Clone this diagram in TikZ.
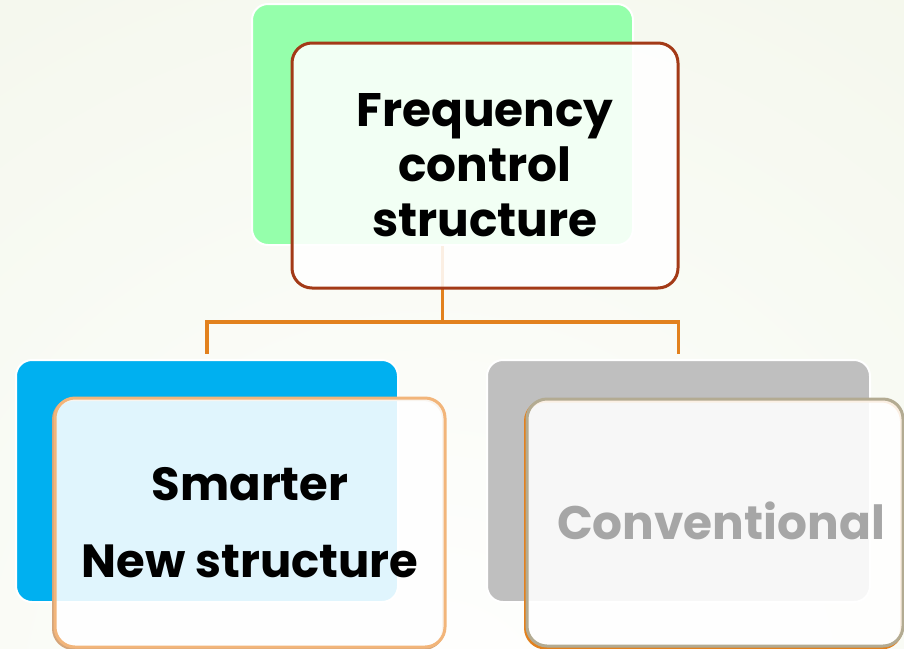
\documentclass[tikz,border=0pt]{standalone}
\usepackage{fontspec}
\setmainfont{Poppins}
\definecolor{bgedge}{HTML}{EEF3E2}
\definecolor{greenbk}{HTML}{95FFAB}
\definecolor{bluebk}{HTML}{00B0F0}
\definecolor{graybk}{HTML}{BFBFBF}
\definecolor{rust}{HTML}{A33A17}
\definecolor{peach}{HTML}{F2B57A}
\definecolor{peachshade}{HTML}{D4A57A}
\definecolor{taupe}{HTML}{B3AB92}
\definecolor{linkorange}{HTML}{E2811E}
\definecolor{softgray}{HTML}{A6A6A6}
\begin{document}
\begin{tikzpicture}[x=1pt,y=-1pt,
  backcard/.style={rectangle, rounded corners=16pt, draw=white, line width=2pt, inner sep=0pt},
  cardrim/.style={rectangle, rounded corners=20pt, line width=3pt, inner sep=0pt},
  frontcard/.style={rectangle, rounded corners=20pt, fill=white, fill opacity=0.88,
    text opacity=1, line width=3pt, inner sep=0pt, align=center},
  link/.style={draw=linkorange, line width=3.5pt}]
\useasboundingbox (0,0) rectangle (904,648);
% soft backdrop
\begin{scope}
  \clip (0,0) rectangle (904,648);
  \shade[inner color=white, outer color=bgedge] (430,720) circle (1400);
\end{scope}
% coloured back cards
\node[backcard, fill=greenbk, minimum width=381pt, minimum height=241pt] (freqback) at (442.5,124.5) {};
\node[backcard, fill=bluebk, minimum width=382pt, minimum height=242pt] (smartback) at (207,481) {};
\node[backcard, fill=graybk, minimum width=383pt, minimum height=242pt] (convback) at (678.5,481) {};
% tree connectors
\coordinate (bar) at (0,322);
\draw[link] (freqback.south) |- (smartback.north |- bar) -- ([yshift=5pt]smartback.north);
\draw[link] (freqback.south |- bar) -| ([yshift=5pt]convback.north);
% rims under the front cards
\node[cardrim, draw=peachshade, minimum width=390pt, minimum height=249pt] (smartrim) at (248.5,524) {};
\node[cardrim, draw=linkorange, minimum width=376pt, minimum height=247pt] (convrim) at (713.5,524.5) {};
% front cards
\node[frontcard, draw=rust, minimum width=386pt, minimum height=245pt,
  font={\fontsize{47}{55}\selectfont\bfseries}] (freq) at (485,165.5) {Frequency\\control\\structure};
\node[frontcard, draw=peach, minimum width=390pt, minimum height=249pt,
  font={\fontsize{46.5}{77}\selectfont\bfseries}] (smart) at (250,522.5) {Smarter\\New structure};
\node[frontcard, draw=taupe, minimum width=376pt, minimum height=247pt] (conv) at (715,522.5) {};
\node[text=softgray, inner sep=0pt, font={\fontsize{47}{56}\selectfont\bfseries}] (convlabel) at (721,521) {Conventional};
\end{tikzpicture}
\end{document}
